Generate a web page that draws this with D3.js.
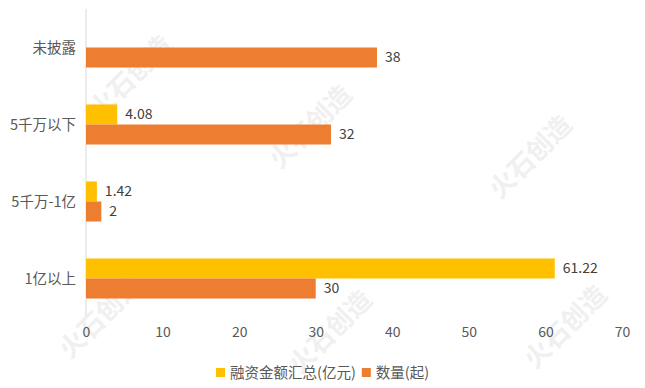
<!DOCTYPE html>
<html><head><meta charset="utf-8">
<script src="https://cdn.jsdelivr.net/npm/d3@7"></script>
<style>body{margin:0;background:#fff}svg{display:block}text{font-family:"Noto Sans CJK SC","Noto Sans",sans-serif}</style>
</head><body><svg id="c" width="645" height="388"></svg>
<script>
const categories = ["未披露","5千万以下","5千万-1亿","1亿以上"];
const seriesNames = ["融资金额汇总(亿元)","数量(起)"];
const amountValues = [null,4.08,1.42,61.22];
const countValues = [38,32,2,30];
const xTicks = [0,10,20,30,40,50,60,70];
const colors = ["#FFC000","#ED7D31"];

const svg = d3.select("#c");
// watermark
const wm = svg.append("g").attr("fill","#f0f0f0").attr("font-size",26).attr("font-weight","bold");
[[100,120],[280,170],[500,200],[70,360],[300,375],[535,370]].forEach(([x,y])=>{
  wm.append("text").attr("transform",`translate(${x},${y}) rotate(-45)`).text("火石创造");
});

const x = d3.scaleLinear().domain([0,70]).range([86,622]);
const y = d3.scaleBand().domain(categories).range([9,317]).paddingInner(0.48).paddingOuter(0.24);
const ys = d3.scaleBand().domain([0,1]).range([0,y.bandwidth()]);

svg.append("line").attr("x1",86).attr("x2",86).attr("y1",9).attr("y2",316).attr("stroke","#d9d9d9");

const data = [amountValues,countValues];
data.forEach((vals,si)=>{
  const g = svg.append("g");
  categories.forEach((c,i)=>{
    const v = vals[i];
    if(v==null) return;
    g.append("rect").attr("x",x(0)).attr("y",y(c)+ys(si)).attr("width",x(v)-x(0)).attr("height",ys.bandwidth()).attr("fill",colors[si]);
    g.append("text").attr("x",x(v)+8).attr("y",y(c)+ys(si)+ys.bandwidth()/2).attr("dy","0.35em")
      .attr("font-size",14).attr("fill","#404040").text(v);
  });
});

// category labels
categories.forEach(c=>{
  svg.append("text").attr("x",76).attr("y",y(c)+y.bandwidth()/2).attr("dy","0.35em").attr("text-anchor","end")
    .attr("font-size",14.5).attr("fill","#595959").text(c);
});

// x axis
const ax = svg.append("g").attr("transform","translate(0,316)")
  .call(d3.axisBottom(x).tickValues(xTicks).tickSize(0).tickPadding(11));
ax.select(".domain").remove();
ax.selectAll("text").attr("font-size",14).attr("fill","#595959").attr("font-family","'Noto Sans CJK SC',sans-serif");

// legend
const lg = svg.append("g").attr("font-size",14.5).attr("fill","#595959");
let lx = 216;
seriesNames.forEach((n,i)=>{
  lg.append("rect").attr("x",lx).attr("y",368).attr("width",9).attr("height",9).attr("fill",colors[i]);
  const t = lg.append("text").attr("x",lx+14).attr("y",373).attr("dy","0.35em").attr("fill","#595959").text(n);
  lx += 14 + t.node().getComputedTextLength() + 6;
});
</script></body></html>
